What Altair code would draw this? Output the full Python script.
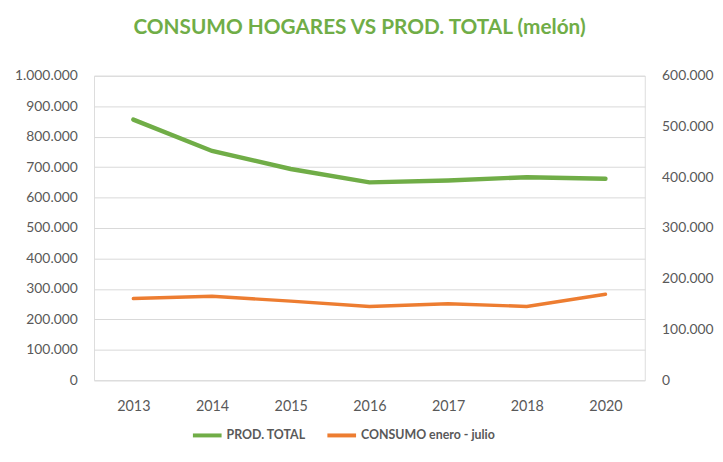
import altair as alt
import pandas as pd

years = ["2013", "2014", "2015", "2016", "2017", "2018", "2020"]
prod_total = [856000, 753000, 694000, 650000, 656000, 667000, 662000]
consumo = [161000, 165500, 156000, 145500, 151000, 145500, 169500]
series_names = ["PROD. TOTAL", "CONSUMO enero - julio"]
series_colors = ["#70AD47", "#ED7D31"]

df_prod = pd.DataFrame({"year": years, "value": prod_total, "serie": series_names[0]})
df_cons = pd.DataFrame({"year": years, "value": consumo, "serie": series_names[1]})

FONT = "Lato"
LABEL_COLOR = "#595959"
fmt_expr = "replace(format(datum.value, ','), regexp(',', 'g'), '.')"

x_enc = alt.X(
    "year:N",
    sort=years,
    scale=alt.Scale(paddingOuter=0.5, paddingInner=0),
    axis=alt.Axis(title=None, labelAngle=0, domain=False, ticks=False,
                  labelPadding=20, labelFontSize=14.5, labelColor=LABEL_COLOR,
                  labelFont=FONT, grid=False),
)

color_enc = alt.Color(
    "serie:N",
    scale=alt.Scale(domain=series_names, range=series_colors),
    legend=alt.Legend(title=None, orient="none", legendX=98, legendY=347,
                      direction="horizontal",
                      symbolType="stroke", symbolStrokeWidth=4, symbolSize=841,
                      labelFontSize=12.5, labelFontWeight="bold",
                      labelColor=LABEL_COLOR, labelFont=FONT,
                      labelOffset=3, columnPadding=14),
)

left = alt.Chart(df_prod).mark_line(strokeWidth=4.5, strokeCap="round").encode(
    x=x_enc,
    y=alt.Y("value:Q",
            scale=alt.Scale(domain=[0, 1000000], nice=False),
            axis=alt.Axis(title=None, orient="left", values=list(range(0, 1000001, 100000)),
                          labelExpr=fmt_expr, domain=False, ticks=False, labelPadding=17,
                          labelFontSize=14, labelColor=LABEL_COLOR, labelFont=FONT,
                          grid=True, gridColor="#D9D9D9", gridWidth=1)),
    color=color_enc,
)

right = alt.Chart(df_cons).mark_line(strokeWidth=3.5, strokeCap="round").encode(
    x=x_enc,
    y=alt.Y("value:Q",
            scale=alt.Scale(domain=[0, 600000], nice=False),
            axis=alt.Axis(title=None, orient="right", values=list(range(0, 600001, 100000)),
                          labelExpr=fmt_expr, domain=False, ticks=False, labelPadding=17,
                          labelFontSize=14, labelColor=LABEL_COLOR, labelFont=FONT,
                          grid=False)),
    color=color_enc,
)

chart = alt.layer(left, right).resolve_scale(y="independent").properties(
    width=557,
    height=308,
    autosize=alt.AutoSizeParams(type="none"),
    padding={"left": 87, "top": 66, "right": 71, "bottom": 72},
    title=alt.TitleParams(
        "CONSUMO HOGARES VS PROD. TOTAL (melón)",
        anchor="middle", fontSize=21, font=FONT, fontWeight="bold",
        color="#70AD47", offset=31, dx=-10,
    ),
).configure_view(stroke=None).configure(background="white")

chart.save("out.html", embed_options={"renderer": "svg", "actions": False})
